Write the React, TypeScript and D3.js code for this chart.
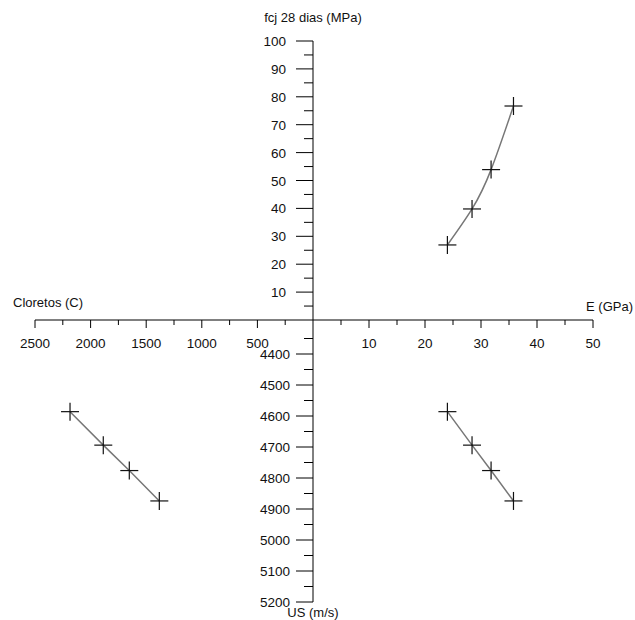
import React from "react";
import * as d3 from "d3";

// Data
const cloretos = [2185, 1886, 1652, 1382];
const moduloE = [24.0, 28.4, 31.8, 35.8];
const fcj28 = [26.9, 39.8, 53.9, 76.7];
const velocidadeUS = [4586, 4694, 4776, 4874];

const eTicks = [10, 20, 30, 40, 50];
const eMinor = [5, 15, 25, 35, 45];
const cTicks = [500, 1000, 1500, 2000, 2500];
const cMinor = [250, 750, 1250, 1750, 2250];
const fTicks = [10, 20, 30, 40, 50, 60, 70, 80, 90, 100];
const fMinor = [5, 15, 25, 35, 45, 55, 65, 75, 85, 95];
const usTicks = [4400, 4500, 4600, 4700, 4800, 4900, 5000, 5100, 5200];
const usMinor = [4350, 4450, 4550, 4650, 4750, 4850, 4950, 5050, 5150];

const W = 635, H = 620;
const OX = 313, OY = 320;
const xR = d3.scaleLinear().domain([0, 50]).range([OX, 593]);
const xL = d3.scaleLinear().domain([0, 2500]).range([OX, 35]);
const yT = d3.scaleLinear().domain([0, 100]).range([OY, 41]);
const yB = d3.scaleLinear().domain([4400, 5200]).range([354, 602]);

const font = "Liberation Sans, Arial, sans-serif";
const FS = 13.5;

function Plus({ x, y }: { x: number; y: number }) {
  const s = 9;
  return (
    <g stroke="#111" strokeWidth={1.2}>
      <line x1={x - s} x2={x + s} y1={y} y2={y} />
      <line x1={x} x2={x} y1={y - s} y2={y + s} />
    </g>
  );
}

export default function App() {
  const q1 = moduloE.map((e, i) => [xR(e), yT(fcj28[i])] as [number, number]);
  const q4 = moduloE.map((e, i) => [xR(e), yB(velocidadeUS[i])] as [number, number]);
  const q3 = cloretos.map((c, i) => [xL(c), yB(velocidadeUS[i])] as [number, number]);
  const curve = d3.line().curve(d3.curveNatural);
  const straight = d3.line();

  return (
    <svg width={W} height={H} style={{ position: "absolute", left: 0, top: 0, background: "#fff" }} fontFamily={font}>
      {/* horizontal axis */}
      <line x1={xL(2500)} x2={xR(50)} y1={OY} y2={OY} stroke="#000" strokeWidth={1} />
      {eTicks.map((t) => (
        <g key={"e" + t}>
          <line x1={xR(t)} x2={xR(t)} y1={OY} y2={OY + 8} stroke="#000" />
          <text x={xR(t)} y={OY + 28} textAnchor="middle" fontSize={FS} fill="#111">{t}</text>
        </g>
      ))}
      {eMinor.map((t) => (
        <line key={"em" + t} x1={xR(t)} x2={xR(t)} y1={OY} y2={OY + 5} stroke="#000" />
      ))}
      {cTicks.map((t) => (
        <g key={"c" + t}>
          <line x1={xL(t)} x2={xL(t)} y1={OY} y2={OY + 8} stroke="#000" />
          <text x={xL(t)} y={OY + 28} textAnchor="middle" fontSize={FS} fill="#111">{t}</text>
        </g>
      ))}
      {cMinor.map((t) => (
        <line key={"cm" + t} x1={xL(t)} x2={xL(t)} y1={OY} y2={OY + 5} stroke="#000" />
      ))}

      {/* vertical axis top */}
      <line x1={OX} x2={OX} y1={yT(100)} y2={OY} stroke="#000" />
      {fTicks.map((t) => (
        <g key={"f" + t}>
          <line x1={OX - 17} x2={OX} y1={yT(t)} y2={yT(t)} stroke="#000" />
          <text x={OX - 27} y={yT(t) + 5} textAnchor="end" fontSize={FS} fill="#111">{t}</text>
        </g>
      ))}
      {fMinor.map((t) => (
        <line key={"fm" + t} x1={OX - 9} x2={OX} y1={yT(t)} y2={yT(t)} stroke="#000" />
      ))}

      {/* vertical axis bottom */}
      <line x1={OX} x2={OX} y1={OY} y2={yB(5200)} stroke="#000" />
      {usTicks.map((t) => (
        <g key={"u" + t}>
          <line x1={OX - 17} x2={OX} y1={yB(t)} y2={yB(t)} stroke="#000" />
          <text x={OX - 23} y={yB(t) + 5} textAnchor="end" fontSize={FS} fill="#111">{t}</text>
        </g>
      ))}
      {usMinor.map((t) => (
        <line key={"um" + t} x1={OX - 9} x2={OX} y1={yB(t)} y2={yB(t)} stroke="#000" />
      ))}

      {/* axis titles */}
      <text x={OX} y={22} textAnchor="middle" fontSize={13} fill="#111">fcj 28 dias (MPa)</text>
      <text x={OX} y={617} textAnchor="middle" fontSize={13} fill="#111">US (m/s)</text>
      <text x={13} y={307} textAnchor="start" fontSize={13} fill="#111">Cloretos (C)</text>
      <text x={633} y={311} textAnchor="end" fontSize={13} fill="#111">E (GPa)</text>

      {/* series */}
      <path d={curve(q1) || ""} fill="none" stroke="#777" strokeWidth={1.5} />
      <path d={straight(q4) || ""} fill="none" stroke="#777" strokeWidth={1.5} />
      <path d={straight(q3) || ""} fill="none" stroke="#777" strokeWidth={1.5} />
      {[...q1, ...q4, ...q3].map((p, i) => (
        <Plus key={i} x={p[0]} y={p[1]} />
      ))}
    </svg>
  );
}
